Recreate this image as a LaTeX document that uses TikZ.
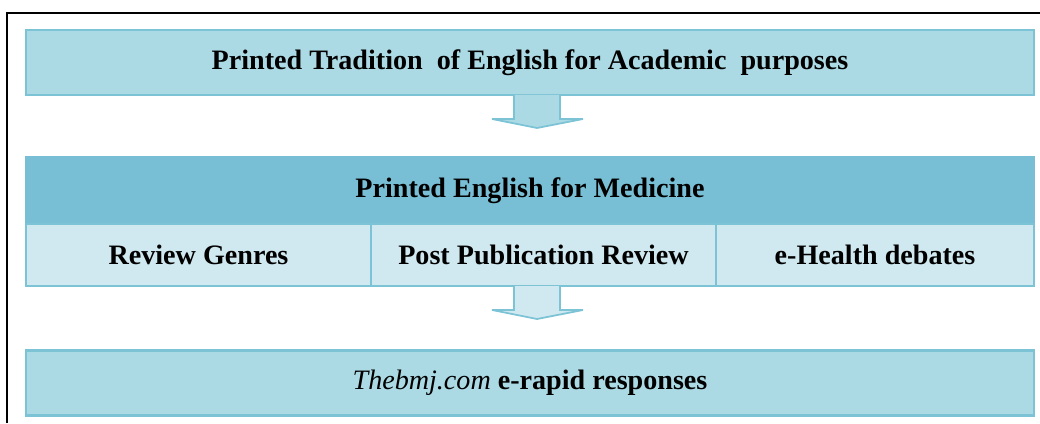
\documentclass[tikz,border=0pt]{standalone}
\usepackage{fontspec}
\setmainfont{Liberation Serif}
\usetikzlibrary{calc}
\definecolor{boxfill}{HTML}{ABDAE5}
\definecolor{headfill}{HTML}{78BFD5}
\definecolor{cellfill}{HTML}{D0E8EF}
\definecolor{edge}{HTML}{7DC3D6}
\begin{document}
\begin{tikzpicture}[x=0.02cm,y=-0.02cm,
  box/.style = {rectangle,draw=edge,line width=1.2pt,fill=boxfill,minimum width=20.16cm,minimum height=1.3cm,outer sep=0mm,font=\fontsize{16}{18}\selectfont\bfseries},
  head/.style = {box,draw=headfill,fill=headfill,minimum height=1.34cm},
  cell/.style = {box,fill=cellfill,minimum height=1.24cm},
  blockarrow/.style = {draw=edge,line width=1pt,line join=miter}]
\useasboundingbox (0,0) rectangle (1040,423);
% frame
\draw[line width=1.2pt] (7,423) -- (7,13) -- (1040,13);
% boxes
\node[box] (tradition) at (530,62.5) {Printed Tradition \ of English for Academic \ purposes};
\node[head] (medicine) at (530,190.5) {Printed English for Medicine};
\foreach \t [count=\j from 0] in {Review Genres, Post Publication Review}
    \node[cell,minimum width=6.9cm] (c\j) at (198.5+345*\j,255) {\t};
\node[cell,minimum width=6.36cm] (c2) at (875,255) {e-Health debates};
\node[box] (rapid) at (530,383) {{\mdseries\itshape Thebmj.com} e-rapid responses};
% arrows
\coordinate (a1) at ($(tradition.south)+(7,0)$);
\coordinate (a2) at ($(c1.south)+(-6.5,0)$);
\foreach \a/\f in {a1/boxfill, a2/cellfill}
    \draw[blockarrow,fill=\f,shift={(\a)}] (-23,0) -- (-23,24) -- (-45,24) -- (0,33) -- (46,24) -- (23,24) -- (23,0);
\end{tikzpicture}
\end{document}
